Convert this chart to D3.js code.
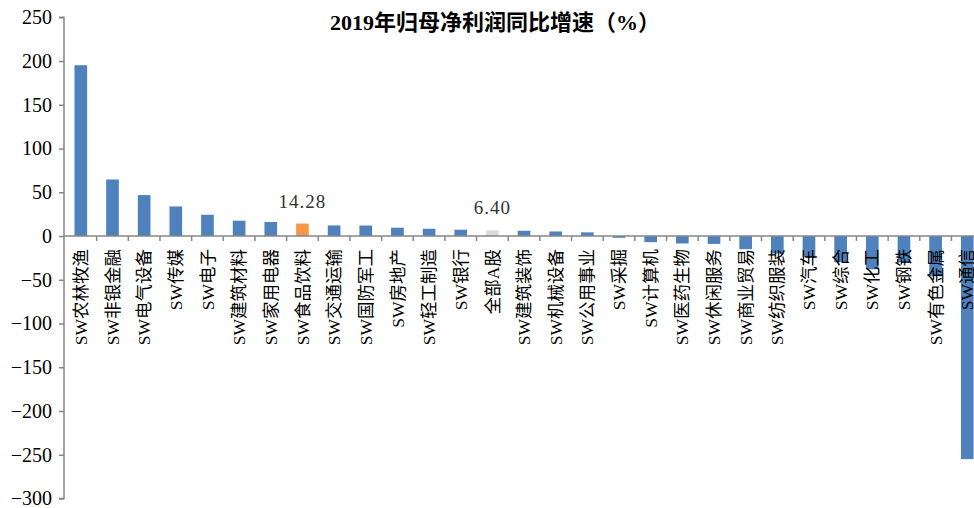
<!DOCTYPE html>
<html>
<head>
<meta charset="utf-8">
<script src="https://cdn.jsdelivr.net/npm/d3@7/dist/d3.min.js"></script>
<style>
  html, body { margin: 0; padding: 0; background: #fff; }
  svg { display: block; }
</style>
</head>
<body>
<svg id="chart" width="974" height="508"></svg>
<script>
const categories = ["SW农林牧渔","SW非银金融","SW电气设备","SW传媒","SW电子","SW建筑材料","SW家用电器","SW食品饮料","SW交通运输","SW国防军工","SW房地产","SW轻工制造","SW银行","全部A股","SW建筑装饰","SW机械设备","SW公用事业","SW采掘","SW计算机","SW医药生物","SW休闲服务","SW商业贸易","SW纺织服装","SW汽车","SW综合","SW化工","SW钢铁","SW有色金属","SW通信"];
const values = [195.2,64.6,46.8,33.8,24.3,17.5,16.0,14.28,12.1,12.0,9.5,8.3,7.2,6.40,6.0,5.2,4.2,-2.0,-7.0,-8.5,-9.0,-15.0,-20.0,-24.0,-30.0,-38.0,-30.0,-46.0,-255.0];
const highlight = {"SW食品饮料": "#F79646", "全部A股": "#D9D9D9"};
const labelled = ["SW食品饮料", "全部A股"];
const yTicks = [250,200,150,100,50,0,-50,-100,-150,-200,-250,-300];
const title = "2019年归母净利润同比增速（%）";

const svg = d3.select("#chart");
const serif = "'Liberation Serif', 'Noto Sans CJK SC', serif";

const x = d3.scaleBand().domain(categories).range([65, 983.1]).paddingInner(0.6).paddingOuter(0.3);
const y = d3.scaleLinear().domain([-300, 250]).range([498.5, 17.3]);

// bars
svg.append("g").selectAll("rect").data(categories).join("rect")
  .attr("x", d => x(d))
  .attr("width", x.bandwidth())
  .attr("y", (d,i) => Math.min(y(values[i]), y(0)))
  .attr("height", (d,i) => Math.abs(y(values[i]) - y(0)))
  .attr("fill", d => highlight[d] || "#4F81BD");

// y axis
const yAxis = d3.axisLeft(y).tickValues(yTicks).tickSize(5).tickPadding(7)
  .tickFormat(d => d < 0 ? "\u2212" + Math.abs(d) : d);
const gy = svg.append("g").attr("transform", "translate(64,0)").call(yAxis);
gy.select(".domain").attr("stroke", "#868686").attr("stroke-width", 1.5)
  .attr("d", `M-5,${y(250)}H0V${y(-300)}H-5`);
gy.selectAll(".tick line").attr("stroke", "#868686").attr("stroke-width", 1.5);
gy.selectAll(".tick text").attr("font-family", serif).attr("font-size", 20).attr("fill", "#000");

// x axis line and ticks at band boundaries
const step = x.step();
const gx = svg.append("g");
gx.append("line").attr("x1", 64).attr("x2", 974).attr("y1", y(0)).attr("y2", y(0))
  .attr("stroke", "#868686").attr("stroke-width", 1.5);
const bounds = categories.map(c => x(c) + x.bandwidth()/2 + step/2);
gx.selectAll("line.tk").data(bounds).join("line").attr("class", "tk")
  .attr("x1", d => d).attr("x2", d => d).attr("y1", y(0)).attr("y2", y(0) + 5)
  .attr("stroke", "#868686").attr("stroke-width", 1.5);

// category labels (rotated)
svg.append("g").selectAll("text").data(categories).join("text")
  .attr("transform", d => `translate(${x(d) + x.bandwidth()/2},${y(0) + 13}) rotate(-90)`)
  .attr("text-anchor", "end")
  .attr("dy", "0.35em")
  .attr("font-family", serif)
  .attr("font-size", 17.5)
  .attr("fill", "#000")
  .text(d => d);

// value labels
svg.append("g").selectAll("text").data(labelled).join("text")
  .attr("x", d => x(d) + x.bandwidth()/2)
  .attr("y", d => y(values[categories.indexOf(d)]) - 16)
  .attr("text-anchor", "middle")
  .attr("font-family", serif)
  .attr("font-size", 19)
  .attr("letter-spacing", 1)
  .attr("fill", "#333")
  .text(d => values[categories.indexOf(d)].toFixed(2));

// title
svg.append("text").attr("x", 495).attr("y", 30).attr("text-anchor", "middle")
  .attr("font-family", "'Liberation Serif', 'Noto Sans CJK SC', serif")
  .attr("font-weight", "bold").attr("font-size", 22).attr("fill", "#000")
  .text(title);
</script>
</body>
</html>
